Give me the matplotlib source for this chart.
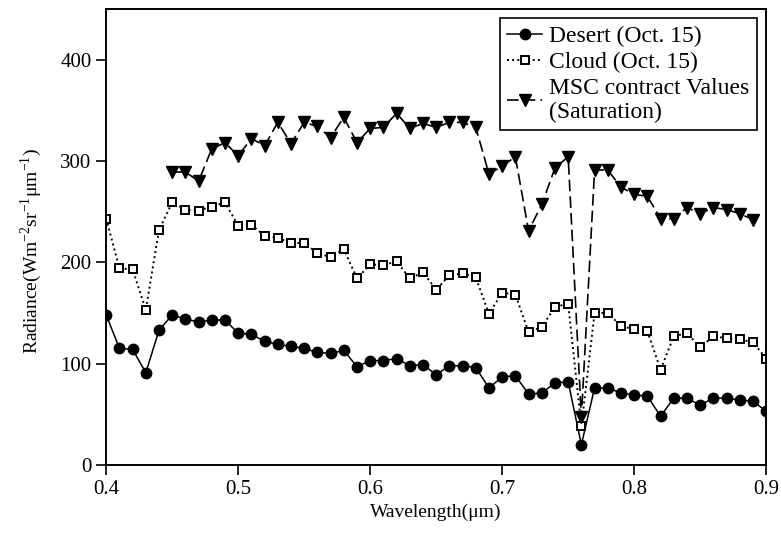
import matplotlib.pyplot as plt

plt.rcParams['font.family'] = ['Liberation Serif', 'DejaVu Serif']
plt.rcParams['mathtext.fontset'] = 'custom'
plt.rcParams['mathtext.rm'] = 'Liberation Serif'

# wavelength (um)
wl = [0.40, 0.41, 0.42, 0.43, 0.44, 0.45, 0.46, 0.47, 0.48, 0.49,
      0.50, 0.51, 0.52, 0.53, 0.54, 0.55, 0.56, 0.57, 0.58, 0.59,
      0.60, 0.61, 0.62, 0.63, 0.64, 0.65, 0.66, 0.67, 0.68, 0.69,
      0.70, 0.71, 0.72, 0.73, 0.74, 0.75, 0.76, 0.77, 0.78, 0.79,
      0.80, 0.81, 0.82, 0.83, 0.84, 0.85, 0.86, 0.87, 0.88, 0.89,
      0.90]

desert = [148, 115, 114, 91, 133, 148, 144, 141, 143, 143,
          130, 129, 122, 119, 117, 115, 111, 110, 113, 97,
          103, 103, 105, 98, 99, 89, 98, 98, 96, 76,
          87, 88, 70, 71, 81, 82, 20, 76, 76, 71,
          69, 68, 48, 66, 66, 59, 66, 66, 64, 63,
          53]

cloud = [243, 194, 193, 153, 232, 259, 252, 251, 255, 259,
         236, 237, 226, 224, 219, 219, 209, 205, 213, 184,
         198, 197, 201, 184, 190, 173, 187, 189, 185, 149,
         170, 168, 131, 136, 156, 159, 38, 150, 150, 137,
         134, 132, 94, 127, 130, 116, 127, 125, 124, 121,
         105]

# MSC contract values start at 0.45 and end at 0.89
wl_msc = wl[5:50]
msc = [289, 289, 280, 312, 318,
       305, 322, 315, 338, 317, 338, 334, 323, 343, 318,
       332, 333, 347, 332, 337, 333, 338, 338, 333, 287,
       295, 304, 231, 257, 293, 304, 47, 291, 291, 274,
       267, 265, 243, 243, 254, 248, 254, 252, 248, 242]

fig = plt.figure(figsize=(7.81, 5.36), dpi=100)
ax = fig.add_axes([0.136, 0.1325, 0.845, 0.851])

ax.plot(wl, desert, '-', color='black', lw=1.1, marker='o', ms=7.5,
        label='Desert (Oct. 15)')
ax.plot(wl, cloud, ':', color='black', lw=1.4, marker='s', ms=6,
        mfc='white', mew=1.4, label='Cloud (Oct. 15)')
ax.plot(wl_msc, msc, '--', color='black', lw=1.2, dashes=(7, 3), marker='v',
        ms=8, label='MSC contract Values\n(Saturation)')

ax.set_xlim(0.4, 0.9)
ax.set_ylim(0, 450)
ax.set_xticks([0.4, 0.5, 0.6, 0.7, 0.8, 0.9])
ax.set_xticklabels(['0.4', '0.5', '0.6', '0.7', '0.8', '0.9'])
ax.set_yticks([0, 100, 200, 300, 400])
ax.tick_params(direction='out', length=7, width=1.2, labelsize=15)
for s in ax.spines.values():
    s.set_linewidth(1.4)

ax.set_xlabel('Wavelength(\u03bcm)', fontsize=14, labelpad=4)
ax.set_ylabel(r'Radiance(Wm$^{\mathregular{-2}}$sr$^{\mathregular{-1}}$'
              '\u03bcm$^{\\mathregular{-1}}$)', fontsize=14, labelpad=12)
ax.yaxis.set_label_coords(-0.095, 0.47)

leg = ax.legend(loc='upper right', fontsize=17, frameon=True, fancybox=False,
                edgecolor='black', framealpha=1, handlelength=1.5,
                numpoints=1, borderpad=0.3, labelspacing=0.2,
                handletextpad=0.3, borderaxespad=0.4)
leg.get_frame().set_linewidth(1.2)

plt.savefig('out.png', dpi=100)
